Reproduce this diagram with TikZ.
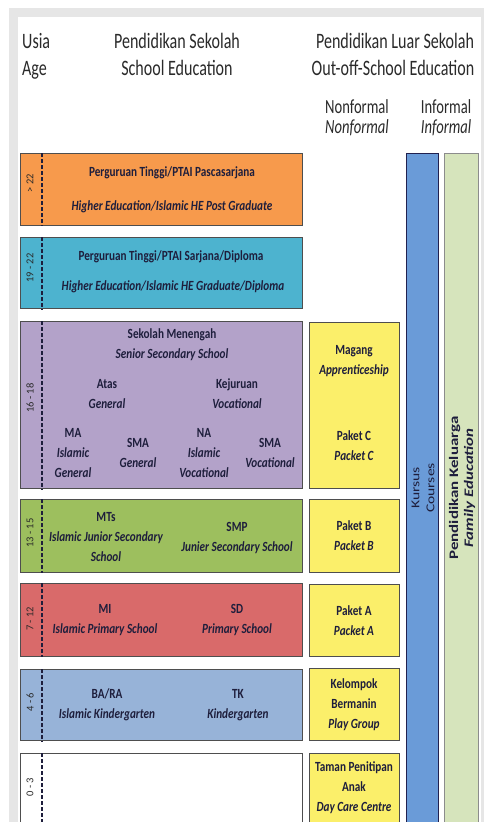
\documentclass[tikz,border=0pt]{standalone}
\usepackage{fontspec}
\setmainfont{Carlito}[FakeStretch=0.8]
\newfontfamily\headfont{Carlito}[FakeStretch=0.73]
\newfontfamily\vfont{Carlito}[FakeStretch=1.3]
\newfontfamily\agefont{Carlito}
\definecolor{cOrange}{HTML}{F79A4C}
\definecolor{cCyan}{HTML}{4DB3CF}
\definecolor{cPurple}{HTML}{B3A2C9}
\definecolor{cGreen}{HTML}{9DBF5E}
\definecolor{cRed}{HTML}{D96A6A}
\definecolor{cBlue}{HTML}{97B3D8}
\definecolor{cYellow}{HTML}{FBEF6A}
\definecolor{cKursus}{HTML}{6A9BD8}
\definecolor{cFamily}{HTML}{D6E4BC}
\definecolor{cText}{HTML}{1E1E3C}
\definecolor{cHead}{HTML}{2A2A2A}
\definecolor{cFrame}{HTML}{E6E6E6}
\definecolor{cEdge}{HTML}{4E4E4E}
\tikzset{
  band/.style={draw=cEdge, line width=1.2pt, anchor=north west, inner sep=0pt},
  agedash/.style={draw=cText, line width=1.5pt, dash pattern=on 4pt off 2pt},
  btxt/.style={text=cText, font=\fontsize{14}{20}\selectfont\bfseries, align=center, inner sep=0pt},
  head/.style={text=cHead, font=\headfont\fontsize{22}{26}\selectfont, inner sep=0pt, anchor=base},
  subhead/.style={text=cHead, font=\headfont\fontsize{20}{22}\selectfont, inner sep=0pt, anchor=base},
  age/.style={text=cHead, font=\agefont\fontsize{10.5}{12}\selectfont, rotate=90, inner sep=0pt},
  vtxt/.style={text=cText, rotate=90, align=center, inner sep=0pt}
}
\begin{document}
\begin{tikzpicture}[x=1pt,y=-1pt]
\clip (0,0) rectangle (484,822);
\fill[white] (0,0) rectangle (484,822);
\fill[cFrame] (9,8) rectangle (484,830);
\fill[white] (18,17) rectangle (481,830);

% header
\node[head, anchor=base west] (usia) at (22,48) {Usia};
\node[head, anchor=base west] (age) at (22,75) {Age};
\node[head] (ps) at (177,48) {Pendidikan Sekolah};
\node[head] (se) at (177,75) {School Education};
\node[head] (pls) at (395,48) {Pendidikan Luar Sekolah};
\node[head] (ose) at (393,75) {Out-off-School Education};
\node[subhead] (nf1) at (357,113) {Nonformal};
\node[subhead] (nf2) at (357,133) {\itshape Nonformal};
\node[subhead] (if1) at (446,113) {Informal};
\node[subhead] (if2) at (446,133) {\itshape Informal};

% school bands
\node[band, fill=cOrange, minimum width=282, minimum height=72] (b1) at (20,153) {};
\node[band, fill=cCyan,   minimum width=282, minimum height=71] (b2) at (20,237) {};
\node[band, fill=cPurple, minimum width=282, minimum height=167] (b3) at (20,321) {};
\node[band, fill=cGreen,  minimum width=282, minimum height=73] (b4) at (20,499) {};
\node[band, fill=cRed,    minimum width=282, minimum height=73] (b5) at (20,583) {};
\node[band, fill=cBlue,   minimum width=282, minimum height=71] (b6) at (20,669) {};
\node[band, fill=white,   minimum width=282, minimum height=90] (b7) at (20,753) {};

% age dashes
\foreach \b in {b1,b2,b3,b4,b5,b6,b7}
  \draw[agedash] ([xshift=22pt]\b.north west) -- ([xshift=22pt]\b.south west);

% age labels
\node[age] (a1) at (30,183) {> 22};
\node[age] (a2) at (30,268) {19 - 22};
\node[age] (a3) at (30,398) {16 - 18};
\node[age] (a4) at (30,533) {13 - 15};
\node[age] (a5) at (30,619) {7 - 12};
\node[age] (a6) at (30,702) {4 - 6};
\node[age] (a7) at (30,787) {0 - 3};

% nonformal column
\node[band, fill=cYellow, minimum width=90, minimum height=166] (y1) at (309,322) {};
\node[band, fill=cYellow, minimum width=90, minimum height=73] (y2) at (309,499) {};
\node[band, fill=cYellow, minimum width=90, minimum height=72] (y3) at (309,584) {};
\node[band, fill=cYellow, minimum width=90, minimum height=72] (y4) at (309,668) {};
\node[band, fill=cYellow, minimum width=90, minimum height=90] (y5) at (309,753) {};

% informal columns
\node[band, fill=cKursus, draw=cEdge!70!blue!60!black, line width=1.4pt, minimum width=32, minimum height=690] (kc) at (406,153) {};
\node[band, fill=cFamily, draw=black!45, minimum width=34, minimum height=690] (fc) at (444,153) {};

% texts school
\node[btxt] (t1) at (172,173) {Perguruan Tinggi/PTAI Pascasarjana};
\node[btxt] (t2) at (172,207) {\itshape Higher Education/Islamic HE Post Graduate};
\node[btxt] (t3) at (171,257) {Perguruan Tinggi/PTAI Sarjana/Diploma};
\node[btxt] (t4) at (173,287) {\itshape Higher Education/Islamic HE Graduate/Diploma};
\node[btxt] (t5) at (172,345) {Sekolah Menengah\\\itshape Senior Secondary School};
\node[btxt] (t6) at (107,394) {Atas\\\itshape General};
\node[btxt] (t7) at (237,394) {Kejuruan\\\itshape Vocational};
\node[btxt] (t8) at (73,453) {MA\\\itshape Islamic\\\itshape General};
\node[btxt] (t9) at (138,453) {SMA\\\itshape General};
\node[btxt] (t10) at (204,453) {NA\\\itshape Islamic\\\itshape Vocational};
\node[btxt] (t11) at (270,453) {SMA\\\itshape Vocational};
\node[btxt] (t12) at (106,537) {MTs\\\itshape Islamic Junior Secondary\\\itshape School};
\node[btxt] (t13) at (237,538) {SMP\\\itshape Junier Secondary School};
\node[btxt] (t14) at (105,620) {MI\\\itshape Islamic Primary School};
\node[btxt] (t15) at (237,620) {SD\\\itshape Primary School};
\node[btxt] (t16) at (107,705) {BA/RA\\\itshape Islamic Kindergarten};
\node[btxt] (t17) at (238,705) {TK\\\itshape Kindergarten};

% texts nonformal
\node[btxt] (n1) at (354,361) {Magang\\\itshape Apprenticeship};
\node[btxt] (n2) at (354,446) {Paket C\\\itshape Packet C};
\node[btxt] (n3) at (354,536) {Paket B\\\itshape Packet B};
\node[btxt] (n4) at (354,621) {Paket A\\\itshape Packet A};
\node[btxt] (n5) at (354,705) {Kelompok\\Bermanin\\\itshape Play Group};
\node[btxt] (n6) at (354,788) {Taman Penitipan\\Anak\\\itshape Day Care Centre};

% vertical texts
\node[vtxt, font=\vfont\fontsize{12}{15}\selectfont] (kt) at (423,488) {Kursus\\Courses};
\node[vtxt, font=\vfont\fontsize{13}{15}\selectfont\bfseries] (ft) at (462,488) {Pendidikan Keluarga\\\itshape Family Education};
\end{tikzpicture}
\end{document}
